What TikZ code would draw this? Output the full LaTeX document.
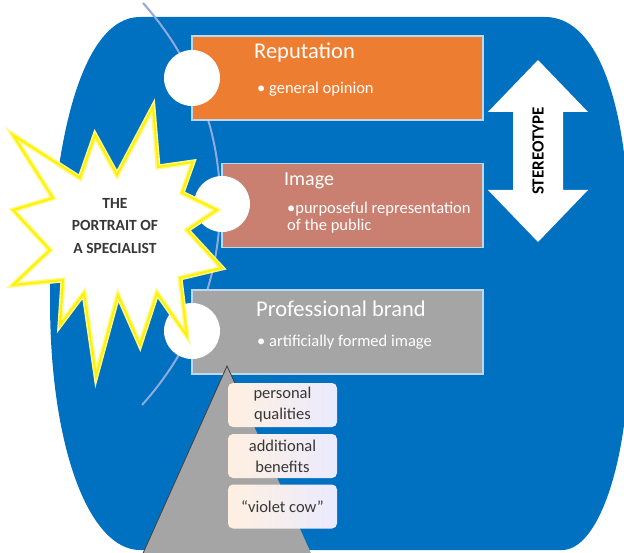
\documentclass[tikz,border=0pt]{standalone}
\usepackage{fontspec}
\setmainfont{Carlito}
\definecolor{blueback}{RGB}{0,112,192}
\definecolor{repcol}{RGB}{237,125,49}
\definecolor{imgcol}{RGB}{201,128,112}
\definecolor{brandcol}{RGB}{165,165,165}
\definecolor{edgecol}{RGB}{189,215,238}
\definecolor{arccol}{RGB}{143,170,220}
\definecolor{textcol}{RGB}{55,55,55}
\begin{document}
\begin{tikzpicture}[x=1pt, y=-1pt,
		bigbox/.style={draw=edgecol, line width=1.5pt, minimum width=291, minimum height=84, inner sep=0pt},
		title/.style={anchor=west, text=white, inner sep=0pt, font=\fontsize{22.5}{26}\selectfont},
		note/.style={anchor=west, text=white, inner sep=0pt, align=left, font=\fontsize{16.5}{17}\selectfont},
		smallbox/.style={rounded corners=5pt, left color=orange!12!white, right color=blue!8!white, minimum width=109, minimum height=44, text=textcol, align=center, inner sep=0pt, font=\fontsize{16.5}{21}\selectfont}]
	\useasboundingbox (0,0) rectangle (624,553);
	\fill[white] (0,0) rectangle (624,553);
	\fill[blueback] (140,17) -- (545,17) .. controls (600,17) and (624,110) .. (628,200) -- (628,380) .. controls (624,470) and (597,550) .. (562,550) -- (140,550) .. controls (90,550) and (50,450) .. (50,300) .. controls (50,150) and (80,17) .. (140,17) -- cycle;
	\draw[arccol, line width=2pt] (143,3) .. controls (246,118) and (246,290) .. (142,405);
	\node[bigbox, fill=repcol] (rep) at (337.5,78) {};
	\node[bigbox, fill=imgcol, minimum width=261] (img) at (352.5,205.5) {};
	\node[bigbox, fill=brandcol] (brand) at (337.5,332) {};
	\node[title] (reptitle) at (254,53) {Reputation};
	\node[note] (repnote) at (257,89) {• general opinion};
	\node[title, font=\fontsize{20}{24}\selectfont] (imgtitle) at (284,181) {Image};
	\node[note] (imgnote) at (287,218) {•purposeful representation\\of the public};
	\node[title] (brandtitle) at (256,309) {Professional brand};
	\node[note] (brandnote) at (257,342) {• artificially formed image};
	\fill[brandcol] (227,366) -- (314,560) -- (140,560) -- cycle;
	\draw[black!75, line width=0.8pt] (240,394) -- (227,366) -- (140,560);
	\foreach \c in {(192,78), (222,204), (192,331)}
		\fill[white] \c circle (28);
	\filldraw[draw=yellow!45, fill=white, line width=5pt, line join=miter] (13,135) -- (80,178) -- (95,135) -- (117,175) -- (153,107) -- (158,167) -- (193,162) -- (182,193) -- (217,210) -- (187,230) -- (222,268) -- (180,278) -- (187,336) -- (157,293) -- (140,345) -- (118,295) -- (96,376) -- (84,293) -- (60,325) -- (63,280) -- (13,285) -- (50,250) -- (13,210) -- (53,198) -- cycle;
	\draw[yellow, line width=2pt] (13,135) -- (80,178) -- (95,135) -- (117,175) -- (153,107) -- (158,167) -- (193,162) -- (182,193) -- (217,210) -- (187,230) -- (222,268) -- (180,278) -- (187,336) -- (157,293) -- (140,345) -- (118,295) -- (96,376) -- (84,293) -- (60,325) -- (63,280) -- (13,285) -- (50,250) -- (13,210) -- (53,198) -- cycle;
	\node[align=center, text=textcol, inner sep=0pt, font=\bfseries\fontsize{15.5}{22.5}\selectfont] (portrait) at (115,226) {THE\\PORTRAIT OF\\A SPECIALIST};
	\fill[white] (538,60) -- (588,112) -- (563,112) -- (563,190) -- (588,190) -- (538,242) -- (488,190) -- (513,190) -- (513,112) -- (488,112) -- cycle;
	\node[rotate=90, inner sep=0pt, font=\bfseries\fontsize{17}{20}\selectfont] (stereo) at (538,151) {STEREOTYPE};
	\foreach \n/\y/\t in {qual/405/{personal\\qualities}, bene/456/{additional\\benefits}, cow/506.5/{“violet cow”}}
		\node[smallbox] (\n) at (282.5,\y) {\t};
\end{tikzpicture}
\end{document}
